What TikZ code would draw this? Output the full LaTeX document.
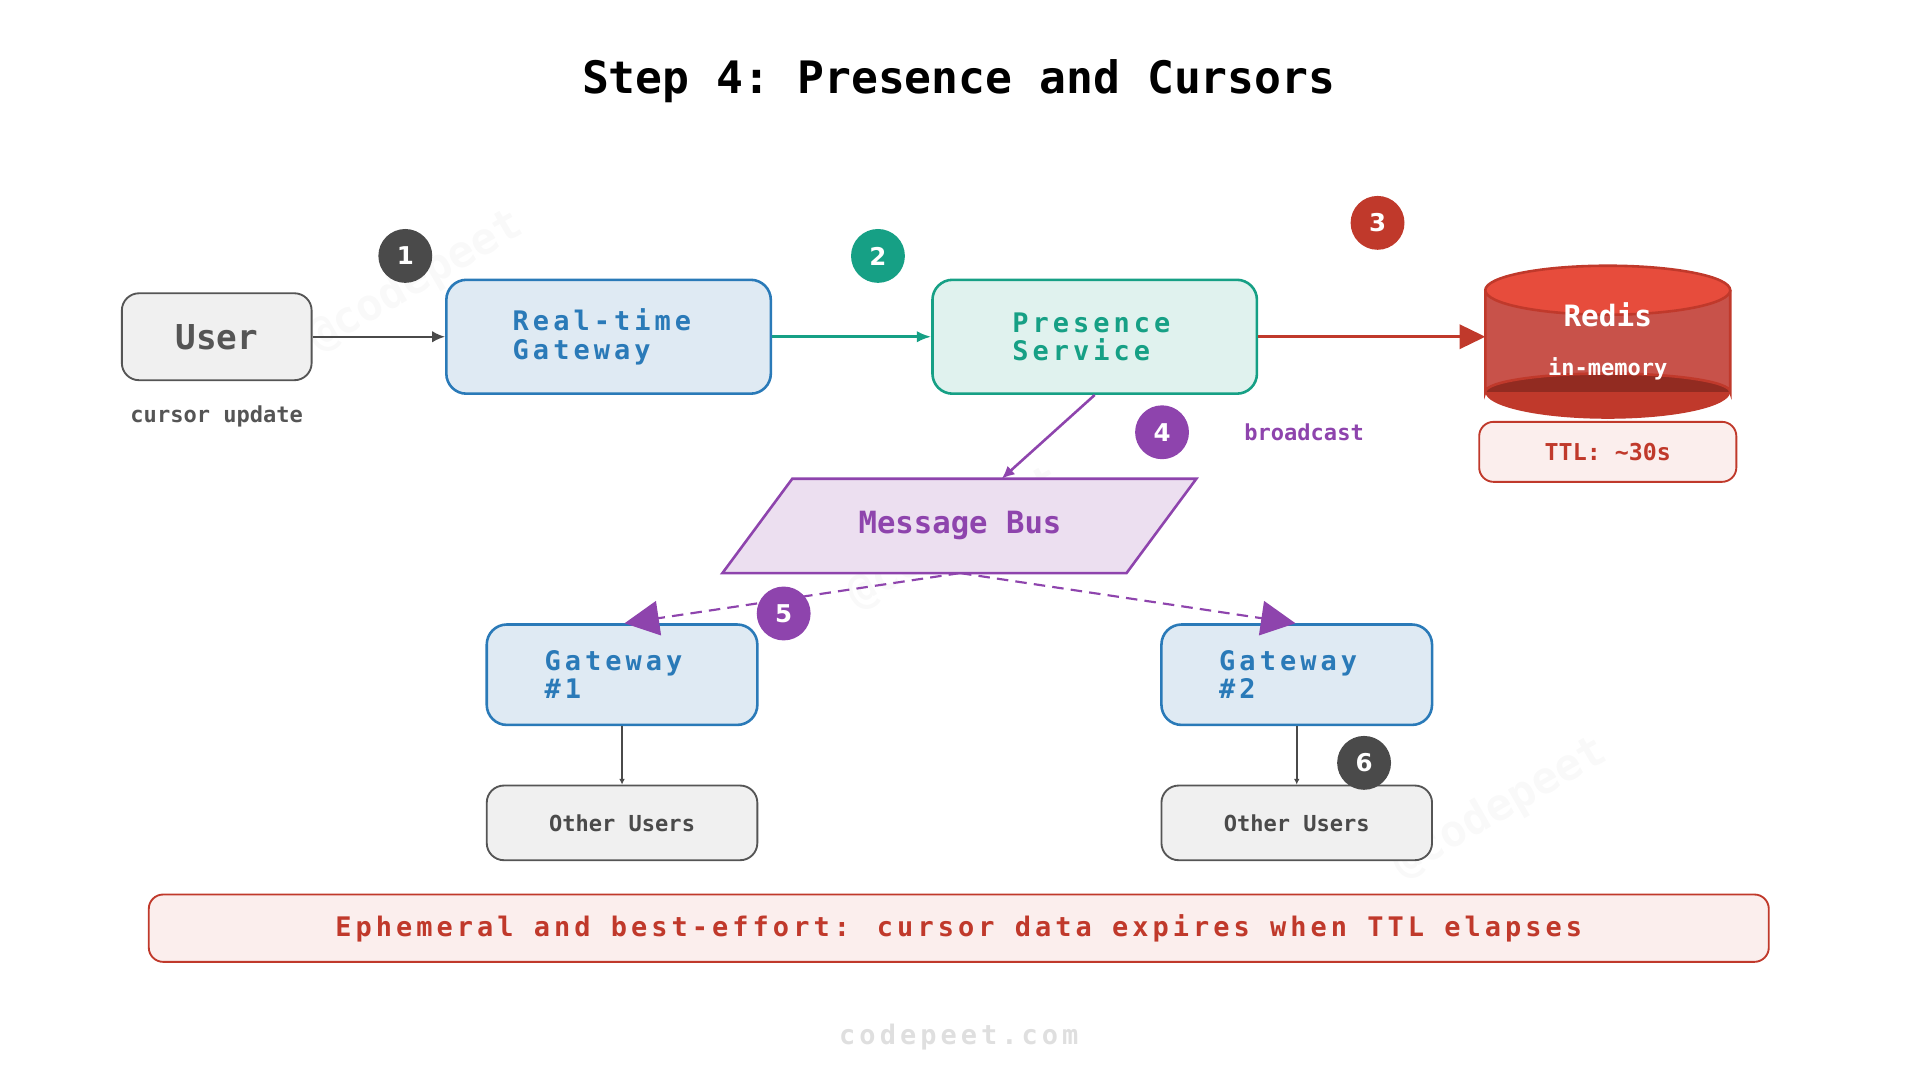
\documentclass[tikz,border=0pt]{standalone}
\usepackage{fontspec}
\setmonofont{DejaVu Sans Mono}
\newfontfamily\spc{DejaVu Sans Mono}[LetterSpace=15]
\newfontfamily\numf{DejaVu Sans}
\usetikzlibrary{arrows.meta,shapes.geometric}
\definecolor{dg}{HTML}{4A4A4A}
\definecolor{gy}{HTML}{555555}
\definecolor{bl}{HTML}{2A7AB8}
\definecolor{blf}{HTML}{DFEAF3}
\definecolor{tl}{HTML}{16A085}
\definecolor{tlf}{HTML}{E0F2EE}
\definecolor{rd}{HTML}{C0392B}
\definecolor{rdf}{HTML}{FBEEED}
\definecolor{rtop}{HTML}{E74C3C}
\definecolor{rbody}{HTML}{C8524A}
\definecolor{rbot}{HTML}{922B21}
\definecolor{pu}{HTML}{8E44AD}
\definecolor{puf}{HTML}{ECDFF0}
\newcommand{\px}[1]{\fontsize{\fpeval{#1*0.8536}pt}{\fpeval{#1*0.9}pt}\selectfont}
\begin{document}
\begin{tikzpicture}[x=0.03cm,y=-0.03cm,
 box/.style={draw,rounded corners=14,line width=1.8pt,minimum width=265*0.03cm,minimum height=93*0.03cm},
 num/.style={circle,fill=#1,minimum size=44*0.03cm,inner sep=0,text=white,font=\numf\bfseries\px{20}},
 other/.style={draw=gy,fill=gray!12,rounded corners=12,line width=1.3pt,minimum width=221*0.03cm,minimum height=61*0.03cm,font=\ttfamily\bfseries\px{18},text=dg},
 wm/.style={text=gray!5,font=\ttfamily\bfseries\px{36},rotate=30}]
\useasboundingbox (0,0) rectangle (1568,882);
\node[wm] (w1) at (340,230) {@codepeet};
\node[wm] (w2) at (780,440) {@codepeet};
\node[wm] (w3) at (1225,660) {@codepeet};
\node (title) at (783,66) {\ttfamily\bfseries\px{36.5}Step 4: Presence and Cursors};
\node[draw=gy,fill=gray!12,rounded corners=12,line width=1.3pt,minimum width=155*0.03cm,minimum height=71*0.03cm,text=gy,font=\ttfamily\bfseries\px{28}] (user) at (177,275) {User};
\node[text=gy,font=\ttfamily\bfseries\px{18}] (cu) at (177,340) {cursor update};
\node[box,draw=bl,fill=blf,text=bl,font=\spc\bfseries\px{22},align=left] (gw) at (497,275) {Real-time\\Gateway\hspace*{2em}};
\node[box,draw=tl,fill=tlf,text=tl,font=\spc\bfseries\px{22},align=left] (ps) at (894,275) {Presence\\Service\hspace*{1em}};
% redis
\fill[rbody] (1213,237) -- (1213,320) arc[start angle=180,end angle=360,x radius=100,y radius=15] -- (1413,237) -- cycle;
\fill[rd] (1213,320) arc[start angle=180,end angle=0,x radius=100,y radius=22] arc[start angle=0,end angle=-180,x radius=100,y radius=15];
\fill[rbot] (1213,320) arc[start angle=180,end angle=360,x radius=100,y radius=15] -- cycle;
\draw[rd,line width=1.8pt] (1213,237) -- (1213,320) arc[start angle=180,end angle=360,x radius=100,y radius=15] -- (1413,237);
\draw[rd,line width=1.8pt,fill=rtop] (1313,237) ellipse[x radius=100,y radius=20];
\node[text=white,font=\ttfamily\bfseries\px{24}] (redis) at (1313,257) {Redis};
\node[text=white,font=\ttfamily\bfseries\px{18}] (mem) at (1313,301) {in-memory};
\coordinate (rb) at (1313,335);
\coordinate (rl) at (1213,275);
\node[draw=rd,fill=rdf,rounded corners=10,line width=1.3pt,minimum width=210*0.03cm,minimum height=49*0.03cm,text=rd,font=\ttfamily\bfseries\px{19}] (ttl) at (1313,369) {TTL: \char`~30s};
\draw[rd,densely dotted,line width=0.8pt] (rb) -- (ttl.north);
\draw[draw=pu,fill=puf,line width=1.8pt] (647,391) -- (977,391) -- (920,468) -- (590,468) -- cycle;
\node[text=pu,font=\ttfamily\bfseries\px{25}] (mb) at (784,429) {Message Bus};
\node[box,minimum width=221*0.03cm,minimum height=82*0.03cm,draw=bl,fill=blf,text=bl,font=\spc\bfseries\px{22},align=left] (g1) at (508,551) {Gateway\\\#1\hspace*{4.4em}};
\node[box,minimum width=221*0.03cm,minimum height=82*0.03cm,draw=bl,fill=blf,text=bl,font=\spc\bfseries\px{22},align=left] (g2) at (1059,551) {Gateway\\\#2\hspace*{4.4em}};
\node[other] (o1) at (508,672) {Other Users};
\node[other] (o2) at (1059,672) {Other Users};
\draw[-{Latex[length=9pt,width=8pt]},dg,line width=1.5pt] (user) -- (gw);
\draw[-{Latex[length=10pt,width=8pt]},tl,line width=1.8pt] (gw) -- (ps);
\draw[-{Triangle[length=18pt,width=17pt]},rd,line width=1.8pt] (ps) -- (rl);
\coordinate (mbt) at (818,391);
\draw[-{Latex[length=9pt,width=8pt]},pu,line width=1.8pt] (ps.south) -- (mbt);
\coordinate (mbb) at (784,468);
\coordinate (g1t) at (510,509);
\coordinate (g2t) at (1058,509);
\draw[-{Triangle[length=24pt,width=24pt]},pu,dash pattern=on 8pt off 5pt,line width=1.5pt] (mbb) -- (g1t);
\draw[-{Triangle[length=24pt,width=24pt]},pu,dash pattern=on 8pt off 5pt,line width=1.5pt] (mbb) -- (g2t);
\draw[-{Latex[length=4pt,width=4pt]},dg,line width=1.2pt] (g1) -- (o1);
\draw[-{Latex[length=4pt,width=4pt]},dg,line width=1.2pt] (g2) -- (o2);
\node[num=dg] (n1) at (331,209) {1};
\node[num=tl] (n2) at (717,209) {2};
\node[num=rd] (n3) at (1125,182) {3};
\node[num=pu] (n4) at (949,353) {4};
\node[text=pu,font=\ttfamily\bfseries\px{18}] (bc) at (1065,353) {broadcast};
\node[num=pu] (n5) at (640,501) {5};
\node[num=dg] (n6) at (1114,623) {6};
\node[draw=rd,fill=rdf,rounded corners=10,line width=1.3pt,minimum width=1323*0.03cm,minimum height=55*0.03cm,text=rd,font=\spc\bfseries\px{22}] (note) at (783,758) {Ephemeral and best-effort: cursor data expires when TTL elapses};
\node[text=gray!25,font=\spc\bfseries\px{22}] (cp) at (783,847) {codepeet.com};
\end{tikzpicture}
\end{document}
